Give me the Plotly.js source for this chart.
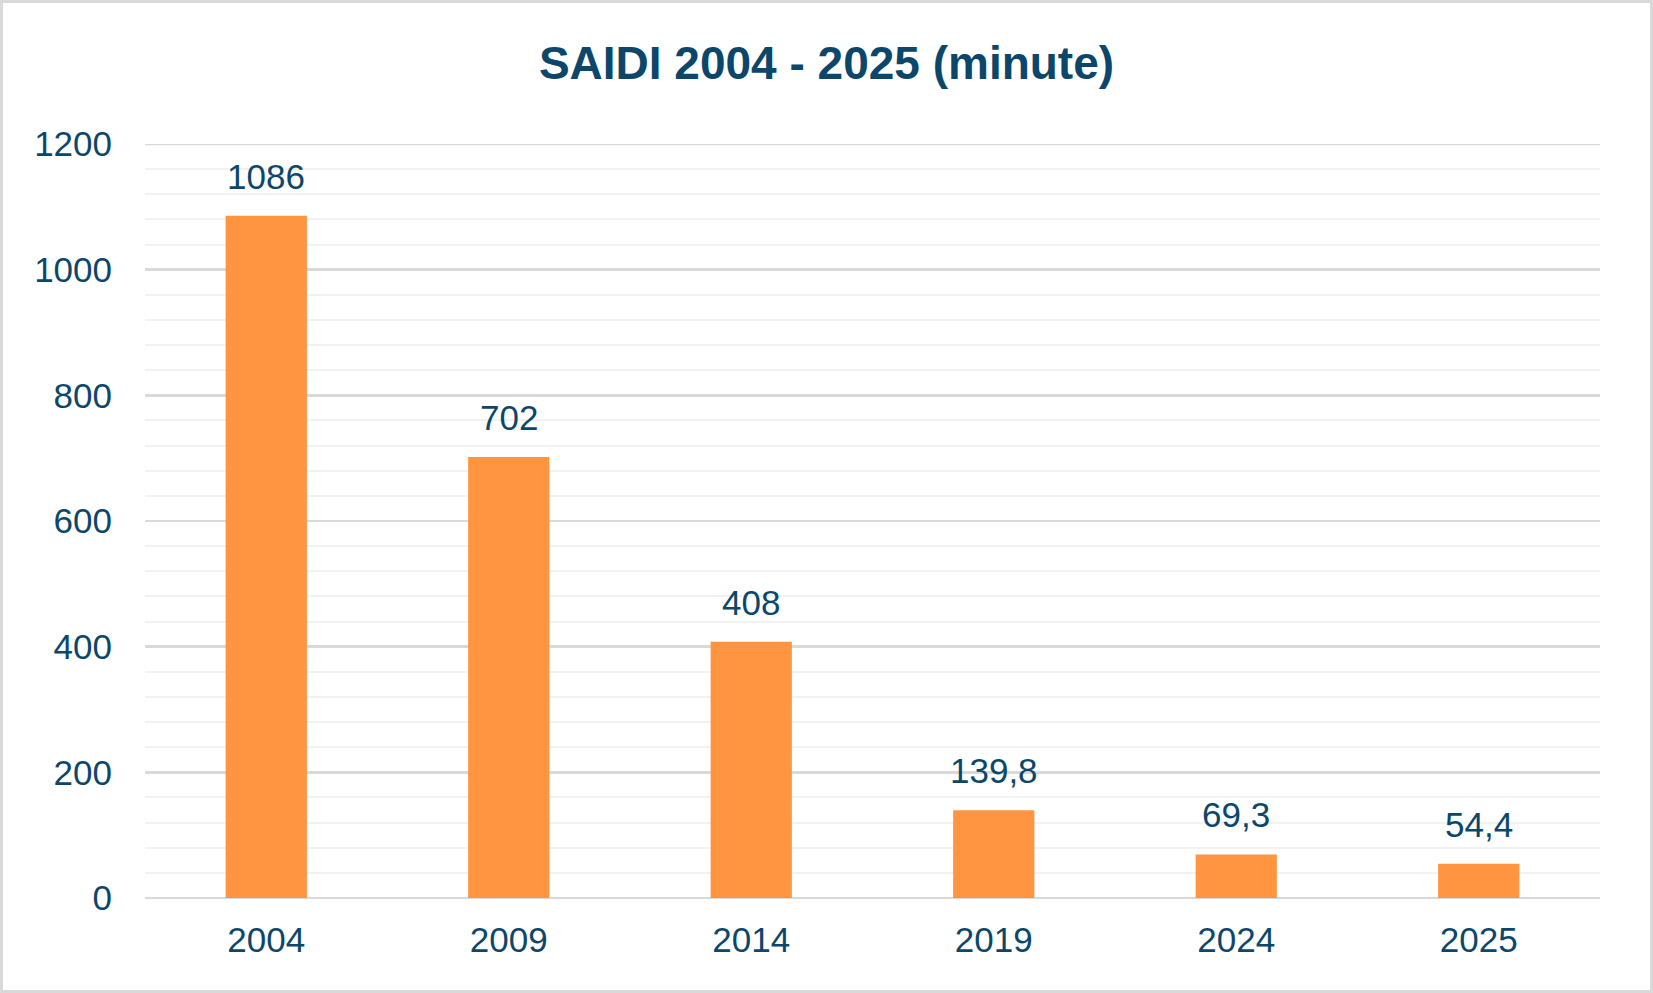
<!DOCTYPE html>
<html>
<head>
<meta charset="utf-8">
<script src="https://cdn.plot.ly/plotly-3.0.1.min.js"></script>
<style>
  html, body { margin: 0; padding: 0; background: #fff; }
  #wrap { position: relative; width: 1653px; height: 993px; }
  #chart { position: absolute; left: 0; top: 0; width: 1653px; height: 993px; }
  #frame { position: absolute; left: 0; top: 0; width: 1653px; height: 993px;
           box-sizing: border-box; border: 3px solid #D9D9D9; pointer-events: none; }
</style>
</head>
<body>
<div id="wrap">
  <div id="chart"></div>
  <div id="frame"></div>
</div>
<script>
var categories = ["2004", "2009", "2014", "2019", "2024", "2025"];
var values = [1086, 702, 408, 139.8, 69.3, 54.4];
var labels = ["1086", "702", "408", "139,8", "69,3", "54,4"];
var yTicks = [0, 200, 400, 600, 800, 1000, 1200];
var yMax = 1200;

var textColor = "#0C476B";
var fontFam = "Liberation Sans, Arial, sans-serif";

var trace = {
  type: "bar",
  x: categories,
  y: values,
  marker: { color: "#FF9441", line: { width: 0 } },
  hoverinfo: "x+y"
};

var annotations = categories.map(function (c, i) {
  return {
    x: i, y: values[i], xref: "x", yref: "y",
    text: labels[i], showarrow: false,
    xanchor: "center", yanchor: "bottom", yshift: 18,
    font: { family: fontFam, size: 35, color: textColor }
  };
});

var layout = {
  width: 1653, height: 993,
  margin: { l: 145, r: 53, t: 144, b: 95 },
  paper_bgcolor: "#ffffff",
  plot_bgcolor: "#ffffff",
  bargap: 0.665,
  showlegend: false,
  title: {
    text: "<b>SAIDI 2004 - 2025 (minute)</b>",
    font: { family: fontFam, size: 46, color: textColor },
    x: 0.5, xref: "container", xanchor: "center",
    y: 1 - 63 / 993, yref: "container", yanchor: "middle"
  },
  xaxis: {
    type: "category",
    categoryorder: "array",
    categoryarray: categories,
    range: [-0.5, categories.length - 0.5],
    autorange: false,
    showgrid: false,
    showline: false,
    zeroline: false,
    ticks: "outside", ticklen: 11, tickcolor: "rgba(0,0,0,0)",
    tickfont: { family: fontFam, size: 35, color: textColor }
  },
  yaxis: {
    range: [0, yMax],
    autorange: false,
    tickvals: yTicks,
    ticktext: yTicks.map(String),
    showgrid: true, gridcolor: "#D9D9D9", gridwidth: 2.5,
    minor: { dtick: 40, showgrid: true, gridcolor: "#F2F2F2", gridwidth: 2 },
    zeroline: true, zerolinecolor: "#D9D9D9", zerolinewidth: 2.5,
    showline: false,
    ticks: "outside", ticklen: 25, tickcolor: "rgba(0,0,0,0)",
    tickfont: { family: fontFam, size: 35, color: textColor }
  },
  shapes: [{
    type: "line", xref: "paper", yref: "y",
    x0: 0, x1: 1, y0: yMax, y1: yMax,
    line: { color: "#D9D9D9", width: 2.5 }, layer: "below"
  }],
  annotations: annotations
};

Plotly.newPlot("chart", [trace], layout, { displayModeBar: false, staticPlot: true });
</script>
</body>
</html>
